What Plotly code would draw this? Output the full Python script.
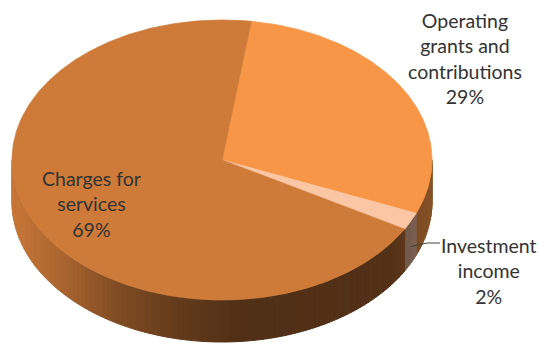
import numpy as np
import plotly.graph_objects as go

# ---- data ----
categories = ["Operating grants and contributions", "Investment income", "Charges for services"]
label_lines = [["Operating", "grants and", "contributions"], ["Investment", "income"], ["Charges for", "services"]]
values = [29, 2, 69]

# ---- style / layout ----
top_colors = [(247, 150, 70), (251, 198, 164), (206, 123, 58)]
W, H = 539, 345
cx, cy, rx, ry, depth = 222, 160, 210, 140, 42
start_deg = 8.0
label_pos = [(465, 58), (489, 271), (91, 204)]
font = dict(family="Lato, 'Open Sans', sans-serif", size=19.5, color="#333333")


def pt(t_deg, dy=0.0):
    r = np.radians(t_deg)
    return cx + rx * np.sin(r), cy - ry * np.cos(r) + dy


def shade(t_deg):
    u = np.sin(np.radians(t_deg))
    return float(np.interp(u, [-1, -0.8, -0.5, -0.2, 0.1, 0.8, 1.0],
                           [0.97, 0.85, 0.62, 0.48, 0.39, 0.4, 0.55]))


def rgb(c, f=1.0):
    return "rgb(%d,%d,%d)" % tuple(int(max(0, min(255, v * f))) for v in c)


total = sum(values)
angles = []
a = start_deg
for v in values:
    span = 360.0 * v / total
    angles.append((a, a + span))
    a += span

fig = go.Figure()

# side walls (front half visible: 90..270 deg)
for (a0, a1), col in zip(angles, top_colors):
    for off in (0, 360, -360):
        lo = max(a0 + off, 90)
        hi = min(a1 + off, 270)
        if hi <= lo:
            continue
        n = max(1, int(np.ceil((hi - lo) / 1.5)))
        edges = np.linspace(lo, hi, n + 1)
        for t0, t1 in zip(edges[:-1], edges[1:]):
            ts = np.linspace(t0, t1, 3)
            xs_top, ys_top = pt(ts)
            xs_bot, ys_bot = pt(ts[::-1], depth)
            xs = np.concatenate([xs_top, xs_bot, xs_top[:1]])
            ys = np.concatenate([ys_top, ys_bot, ys_top[:1]])
            c = rgb(col, shade((t0 + t1) / 2))
            fig.add_trace(go.Scatter(x=xs, y=ys, mode="lines", fill="toself",
                                     fillcolor=c, line=dict(color=c, width=1),
                                     hoverinfo="skip", showlegend=False))

# top face slices
for (a0, a1), col, name in zip(angles, top_colors, categories):
    ts = np.linspace(a0, a1, max(3, int((a1 - a0) * 2)))
    xa, ya = pt(ts)
    xs = np.concatenate([[cx], xa, [cx]])
    ys = np.concatenate([[cy], ya, [cy]])
    c = rgb(col)
    fig.add_trace(go.Scatter(x=xs, y=ys, mode="lines", fill="toself",
                             fillcolor=c, line=dict(color=c, width=0.8),
                             name=name, hoverinfo="name", showlegend=False))

# leader line for the small slice
inv_mid = sum(angles[1]) / 2
sx, sy = pt(inv_mid, depth * 0.6)
fig.add_trace(go.Scatter(x=[sx, 427, 440], y=[sy, 243, 243], mode="lines",
                         line=dict(color="#404040", width=1),
                         hoverinfo="skip", showlegend=False))

# labels
for lines, v, (lx, ly) in zip(label_lines, values, label_pos):
    txt = "<br>".join(lines + ["%d%%" % round(100 * v / total)])
    fig.add_annotation(x=lx, y=ly, xref="x", yref="y", text=txt, showarrow=False,
                       font=font, align="center", xanchor="center", yanchor="middle")

fig.update_layout(
    width=W, height=H, margin=dict(l=0, r=0, t=0, b=0),
    paper_bgcolor="white", plot_bgcolor="white",
    xaxis=dict(range=[0, W], visible=False, fixedrange=True),
    yaxis=dict(range=[H, 0], visible=False, fixedrange=True),
)

fig.write_html("out.html")
